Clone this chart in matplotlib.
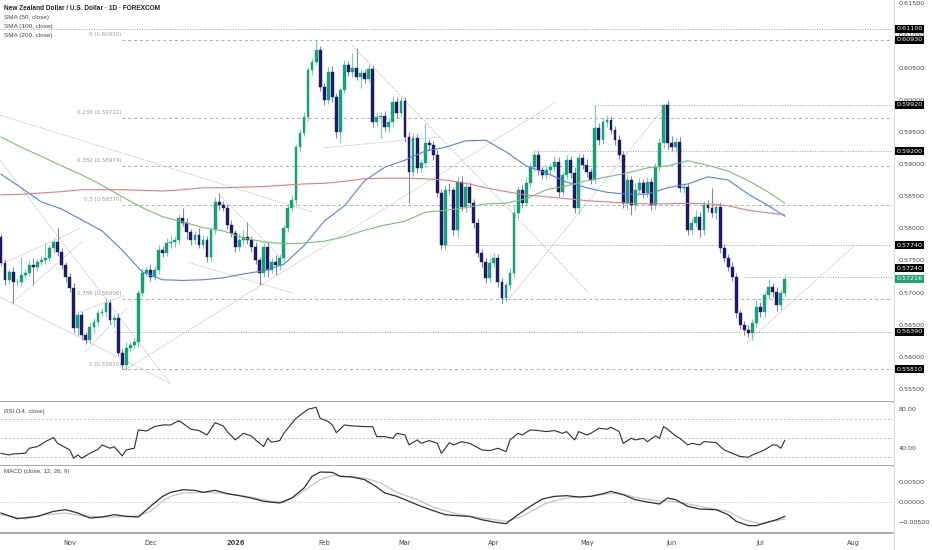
import numpy as np
import matplotlib
matplotlib.use("Agg")
import matplotlib.pyplot as plt
from matplotlib.lines import Line2D

# ---------------- data ----------------
closes = [
    0.5746, 0.5720, 0.5732, 0.5717, 0.5717, 0.5727, 0.5731, 0.5743, 0.5740, 0.5748,
    0.5751, 0.5754, 0.5769, 0.5779, 0.5763, 0.5743, 0.5724, 0.5707, 0.5645, 0.5665,
    0.5634, 0.5626, 0.5647, 0.5654, 0.5668, 0.5670, 0.5684, 0.5657, 0.5661, 0.5606,
    0.5587, 0.5614, 0.5619, 0.5623, 0.5699, 0.5731, 0.5735, 0.5724, 0.5735, 0.5766,
    0.5762, 0.5777, 0.5779, 0.5782, 0.5816, 0.5808, 0.5794, 0.5782, 0.5790, 0.5774,
    0.5782, 0.5755, 0.5797, 0.5841, 0.5836, 0.5832, 0.5805, 0.5793, 0.5771, 0.5782,
    0.5787, 0.5782, 0.5771, 0.5751, 0.5731, 0.5771, 0.5735, 0.5748, 0.5743, 0.5754,
    0.5800, 0.5832, 0.5844, 0.5926, 0.5948, 0.5973, 0.6046, 0.6059, 0.6077, 0.6020,
    0.6000, 0.6043, 0.6004, 0.5950, 0.6015, 0.6054, 0.6043, 0.6049, 0.6035, 0.6042,
    0.6032, 0.6048, 0.5965, 0.5973, 0.5975, 0.5958, 0.5965, 0.5996, 0.5979, 0.5998,
    0.5942, 0.5888, 0.5940, 0.5894, 0.5902, 0.5933, 0.5930, 0.5914, 0.5855, 0.5774,
    0.5860, 0.5859, 0.5797, 0.5872, 0.5833, 0.5864, 0.5839, 0.5808, 0.5762, 0.5748,
    0.5723, 0.5746, 0.5754, 0.5717, 0.5692, 0.5712, 0.5731, 0.5824, 0.5860, 0.5839,
    0.5870, 0.5895, 0.5914, 0.5891, 0.5883, 0.5891, 0.5895, 0.5903, 0.5856, 0.5883,
    0.5906, 0.5886, 0.5832, 0.5909, 0.5898, 0.5888, 0.5875, 0.5956, 0.5937, 0.5965,
    0.5968, 0.5953, 0.5937, 0.5914, 0.5839, 0.5875, 0.5836, 0.5860, 0.5870, 0.5855,
    0.5872, 0.5836, 0.5895, 0.5933, 0.5992, 0.5933, 0.5926, 0.5934, 0.5863, 0.5864,
    0.5797, 0.5808, 0.5818, 0.5797, 0.5836, 0.5832, 0.5824, 0.5833, 0.5769, 0.5754,
    0.5740, 0.5724, 0.5668, 0.5650, 0.5642, 0.5637, 0.5653, 0.5678, 0.5670, 0.5696,
    0.5709, 0.5701, 0.5681, 0.5699, 0.57216,
]
first_open = 0.5787

upper_wick_pips = [
    4, 6, 5, 8, 6, 28, 6, 8, 11, 5,
    6, 23, 5, 6, 22, 6, 5, 6, 8, 6,
    6, 5, 8, 6, 5, 6, 8, 6, 5, 8,
    6, 10, 5, 6, 5, 8, 6, 10, 6, 8,
    6, 8, 11, 6, 6, 15, 8, 5, 6, 10,
    8, 6, 5, 8, 14, 6, 6, 8, 5, 10,
    10, 23, 6, 8, 5, 6, 8, 6, 10, 6,
    5, 6, 8, 5, 6, 8, 5, 6, 16, 6,
    6, 8, 10, 6, 5, 8, 6, 23, 31, 5,
    6, 8, 6, 8, 6, 8, 6, 10, 8, 6,
    6, 8, 8, 6, 6, 31, 6, 6, 8, 6,
    8, 10, 6, 8, 10, 6, 8, 6, 8, 6,
    6, 8, 8, 6, 6, 5, 8, 10, 6, 8,
    10, 6, 8, 6, 5, 8, 6, 10, 8, 6,
    8, 6, 10, 8, 6, 10, 6, 36, 8, 6,
    8, 6, 6, 8, 6, 8, 6, 10, 8, 6,
    8, 6, 6, 8, 1, 8, 10, 6, 8, 6,
    6, 8, 10, 8, 6, 8, 31, 6, 8, 6,
    6, 8, 6, 5, 6, 8, 6, 10, 8, 6,
    12, 6, 8, 6, 8,
]
lower_wick_pips = [
    5, 8, 6, 33, 6, 6, 5, 5, 28, 6,
    5, 6, 5, 8, 6, 6, 7, 6, 8, 12,
    8, 6, 5, 10, 6, 5, 8, 6, 10, 5,
    6, 8, 6, 6, 8, 6, 5, 6, 5, 6,
    6, 5, 8, 8, 6, 5, 10, 8, 6, 5,
    6, 8, 6, 6, 8, 5, 6, 6, 8, 6,
    8, 6, 8, 6, 19, 6, 10, 5, 16, 8,
    5, 6, 5, 8, 6, 5, 6, 8, 5, 6,
    8, 6, 8, 10, 17, 5, 6, 8, 5, 17,
    6, 5, 8, 6, 33, 6, 8, 6, 8, 6,
    8, 48, 6, 8, 6, 6, 8, 8, 6, 6,
    8, 6, 8, 10, 6, 8, 6, 8, 6, 8,
    8, 6, 6, 8, 8, 6, 8, 6, 8, 6,
    5, 8, 6, 8, 6, 6, 8, 6, 8, 6,
    6, 8, 8, 10, 6, 8, 6, 6, 8, 6,
    8, 6, 8, 6, 8, 10, 15, 8, 6, 8,
    6, 8, 6, 6, 8, 10, 6, 8, 6, 8,
    8, 6, 6, 10, 8, 6, 6, 10, 8, 6,
    6, 6, 8, 6, 8, 6, 10, 6, 8, 8,
    6, 8, 10, 8, 6,
]

sma_idx = [0, 5, 10, 15, 20, 25, 30, 35, 40, 45, 50, 55, 60, 65, 70, 75, 80, 85,
           90, 95, 100, 105, 110, 115, 120, 125, 130, 135, 140, 145, 150, 155,
           160, 165, 170, 175, 180, 185, 190, 194]
sma50 = [0.5884, 0.5863, 0.5841, 0.5830, 0.5813, 0.5796, 0.5766, 0.5732, 0.5720,
         0.5719, 0.5720, 0.5723, 0.5729, 0.5734, 0.5744, 0.5773, 0.5811, 0.5835,
         0.5874, 0.5895, 0.5906, 0.5920, 0.5926, 0.5936, 0.5937, 0.5919, 0.5897,
         0.5886, 0.5872, 0.5863, 0.5856, 0.5853, 0.5853, 0.5863, 0.5869, 0.5880,
         0.5875, 0.5853, 0.5835, 0.5819]
sma100 = [0.5942, 0.5926, 0.5912, 0.5897, 0.5883, 0.5867, 0.5849, 0.5832, 0.5818,
          0.5810, 0.5801, 0.5796, 0.5785, 0.5779, 0.5776, 0.5777, 0.5780, 0.5787,
          0.5797, 0.5805, 0.5811, 0.5825, 0.5828, 0.5832, 0.5838, 0.5839, 0.5846,
          0.5860, 0.5866, 0.5874, 0.5880, 0.5886, 0.5894, 0.5897, 0.5905, 0.5898,
          0.5889, 0.5874, 0.5856, 0.5839]
sma200 = [0.5852, 0.5853, 0.5855, 0.5857, 0.5860, 0.5860, 0.5860, 0.5859, 0.5858,
          0.5860, 0.5863, 0.5863, 0.5864, 0.5865, 0.5867, 0.5869, 0.5870, 0.5873,
          0.5877, 0.5878, 0.5878, 0.5877, 0.5875, 0.5870, 0.5863, 0.5857, 0.5852,
          0.5849, 0.5846, 0.5843, 0.5841, 0.5839, 0.5838, 0.5838, 0.5839, 0.5838,
          0.5835, 0.5828, 0.5824, 0.5821]

rsi_idx = [0, 2, 3, 6, 7, 9, 11, 13, 14, 17,
           18, 19, 20, 22, 24, 25, 27, 28, 30, 31,
           33, 34, 36, 38, 40, 42, 44, 45, 47, 49,
           51, 53, 55, 56, 58, 60, 62, 63, 65, 66,
           67, 69, 70, 72, 73, 76, 78, 79, 81, 82,
           83, 85, 87, 90, 92, 93, 95, 97, 98, 100,
           101, 103, 104, 106, 108, 109, 111, 112, 114, 116,
           118, 119, 121, 123, 125, 126, 128, 129, 131, 133,
           135, 137, 139, 140, 142, 143, 145, 146, 148, 150,
           151, 153, 154, 156, 157, 159, 160, 162, 163, 164,
           165, 167, 168, 170, 171, 173, 174, 176, 177, 179,
           181, 183, 185, 186, 188, 189, 191, 192, 193, 194]
rsi_val = [34.3, 32.6, 33.6, 34.3, 39.5, 41.2, 46.3, 50.5, 44.6, 37.8,
           29.2, 32.6, 29.2, 34.3, 38.4, 42.9, 39.5, 41.2, 31.6, 37.8,
           39.5, 58.4, 57.3, 61.8, 63.5, 63.5, 68.0, 65.2, 59.1, 57.7,
           53.2, 65.9, 62.5, 56.7, 48.1, 54.9, 52.2, 48.1, 41.2, 49.8,
           45.7, 47.4, 54.9, 65.2, 70.4, 79.7, 81.7, 70.4, 67.0, 63.5,
           55.6, 63.5, 62.5, 61.8, 61.8, 51.5, 51.5, 49.8, 54.9, 53.2,
           42.9, 48.1, 44.6, 47.4, 44.6, 34.3, 45.3, 42.9, 46.3, 44.6,
           40.2, 37.8, 37.1, 39.5, 36.0, 48.1, 54.9, 53.2, 58.4, 57.7,
           56.7, 57.7, 54.9, 56.7, 48.1, 56.7, 53.2, 54.9, 60.1, 59.1,
           61.1, 56.7, 44.6, 49.8, 48.1, 49.8, 46.3, 52.2, 49.8, 61.8,
           59.1, 52.2, 49.8, 42.9, 44.6, 42.9, 46.3, 45.7, 45.3, 37.8,
           34.3, 30.9, 30.2, 32.6, 36.0, 37.8, 42.9, 42.9, 39.5, 47.4]

macd_idx = [0, 4, 9, 13, 16, 19, 22, 25, 28, 31, 34, 37, 40, 42, 45, 48, 50, 53,
            56, 59, 62, 65, 69, 72, 75, 77, 79, 82, 84, 87, 90, 93, 95, 98, 101,
            104, 107, 110, 113, 116, 119, 122, 125, 128, 131, 134, 137, 140, 143,
            146, 149, 151, 154, 157, 160, 163, 165, 167, 170, 173, 177, 180, 182,
            185, 187, 189, 192, 194]
macd_val = [-0.00271, -0.00411, -0.00354, -0.00230, -0.00189, -0.00271, -0.00395,
            -0.00370, -0.00312, -0.00354, -0.00370, -0.00107, 0.00139, 0.00238,
            0.00303, 0.00287, 0.00238, 0.00287, 0.00205, 0.00156, 0.00098, 0.00016,
            -0.00025, 0.00098, 0.00344, 0.00632, 0.00738, 0.00730, 0.00632, 0.00615,
            0.00550, 0.00369, 0.00221, 0.00139, 0.00016, -0.00107, -0.00214,
            -0.00312, -0.00337, -0.00354, -0.00436, -0.00493, -0.00534, -0.00312,
            -0.00107, 0.00074, 0.00139, 0.00156, 0.00123, 0.00139, 0.00205, 0.00262,
            0.00180, 0.00057, 0.00000, -0.00049, 0.00098, 0.00057, -0.00107,
            -0.00173, -0.00189, -0.00312, -0.00477, -0.00583, -0.00583, -0.00518,
            -0.00436, -0.00354]
signal_idx = [0, 6, 11, 16, 20, 25, 29, 34, 37, 40, 42, 45, 50, 54, 59, 63, 67, 70,
              73, 76, 79, 82, 85, 90, 94, 98, 103, 107, 112, 116, 121, 125, 129,
              132, 135, 140, 144, 149, 153, 157, 162, 166, 171, 175, 180, 184, 188,
              191, 194]
signal_val = [-0.00312, -0.00419, -0.00312, -0.00271, -0.00337, -0.00370, -0.00370,
              -0.00337, -0.00230, 0.00016, 0.00139, 0.00221, 0.00238, 0.00221,
              0.00164, 0.00098, 0.00016, 0.00000, 0.00139, 0.00344, 0.00550,
              0.00648, 0.00632, 0.00591, 0.00468, 0.00238, 0.00057, -0.00123,
              -0.00271, -0.00354, -0.00419, -0.00477, -0.00354, -0.00189, -0.00025,
              0.00098, 0.00123, 0.00180, 0.00221, 0.00115, 0.00033, 0.00016,
              -0.00066, -0.00148, -0.00230, -0.00436, -0.00543, -0.00477, -0.00419]

month_pos = [17, 37, 58, 80, 100, 122, 145, 166, 188, 211]
month_labels = ["Nov", "Dec", "2026", "Feb", "Mar", "Apr", "May", "Jun", "Jul", "Aug"]

fib_ratios = ["0", "0.236", "0.382", "0.5", "0.786", "1"]
fib_levels = [0.60930, 0.59722, 0.58974, 0.58370, 0.56906, 0.55810]
fib_anchor = 30

sr_levels = [0.611, 0.5992, 0.592, 0.5774, 0.5724, 0.5639]
sr_start = [-0.25, 147, 132, 109, 184, 28]

axis_marks = [0.611, 0.6093, 0.5992, 0.592, 0.5774, 0.5724, 0.5639, 0.5581]
axis_mark_shift = [0, 0, 0, 0, 0, 9, 0, 0]
last_price = 0.57216

trend_lines = [
    (-0.25, 0.5976, 77.2, 0.5825),
    (-0.25, 0.5906, 41.8, 0.5559),
    (-0.25, 0.5693, 41.8, 0.5559),
    (1.5, 0.5748, 19.6, 0.5800),
    (2.7, 0.5684, 20.0, 0.5779),
    (19.6, 0.5670, 30.7, 0.5696),
    (20.8, 0.5608, 31.2, 0.5676),
    (30.7, 0.5580, 137.1, 0.5995),
    (53.7, 0.5855, 69.8, 0.5751),
    (46.8, 0.5746, 72.3, 0.5699),
    (86.9, 0.6085, 145.3, 0.5701),
    (79.7, 0.5925, 108.7, 0.5942),
    (126.0, 0.5692, 165.1, 0.5995),
    (184.7, 0.5623, 211.4, 0.5774),
]

assert len(closes) == len(upper_wick_pips) == len(lower_wick_pips)
assert len(rsi_idx) == len(rsi_val)
assert len(macd_idx) == len(macd_val)
assert len(signal_idx) == len(signal_val)
assert len(sma_idx) == len(sma50) == len(sma100) == len(sma200)

# ---------------- derived OHLC ----------------
c = np.array(closes)
o = np.concatenate([[first_open], c[:-1]])
hi = np.maximum(o, c) + np.array(upper_wick_pips) * 1e-4
lo = np.minimum(o, c) - np.array(lower_wick_pips) * 1e-4
x = np.arange(len(c))
up = c >= o

# ---------------- style ----------------
plt.rcParams["font.family"] = ["DejaVu Sans"]
LAB_FONT = ["Liberation Sans", "DejaVu Sans"]
UP = "#16a07a"
DN = "#1b1c66"
UPW = "#7fcab2"
DNW = "#8586ad"
TXT = "#444444"
W, H = 932, 550

fig = plt.figure(figsize=(W / 100, H / 100), dpi=100)
fig.patch.set_facecolor("white")


def rect(top, bottom):
    return [0.0, 1 - bottom / H, 893 / W, (bottom - top) / H]


ax = fig.add_axes(rect(0, 401.7))
ax_rsi = fig.add_axes(rect(401.7, 465.7), sharex=ax)
ax_macd = fig.add_axes(rect(465.7, 532.7), sharex=ax)

for a in (ax, ax_rsi, ax_macd):
    for s in ("top", "left", "right"):
        a.spines[s].set_visible(False)
    a.spines["bottom"].set_color("#9a9a9a")
    a.spines["bottom"].set_linewidth(1.2)
    a.set_facecolor("white")
    a.yaxis.tick_right()
    a.tick_params(axis="y", length=0, pad=4, labelsize=4.6, labelcolor=TXT)
    a.tick_params(axis="x", length=0)

ax.set_xlim(-0.25, 220.8)
ax.set_ylim(0.55304, 0.6155)

# candles
ax.vlines(x[up], lo[up], hi[up], color=UPW, lw=0.8, zorder=2)
ax.vlines(x[~up], lo[~up], hi[~up], color=DNW, lw=0.8, zorder=2)
body_lo = np.minimum(o, c)
body_h = np.abs(c - o)
ax.bar(x[up], body_h[up], bottom=body_lo[up], width=0.7, color=UP,
       edgecolor=UP, linewidth=0.3, zorder=3)
ax.bar(x[~up], body_h[~up], bottom=body_lo[~up], width=0.7, color=DN,
       edgecolor=DN, linewidth=0.3, zorder=3)

# moving averages
ax.plot(sma_idx, sma50, color="#5b7fdc", lw=0.8, zorder=4)
ax.plot(sma_idx, sma100, color="#7dbb7d", lw=0.8, zorder=4)
ax.plot(sma_idx, sma200, color="#e07a84", lw=0.8, zorder=4)

# fib levels
for r, lv in zip(fib_ratios, fib_levels):
    ax.plot([fib_anchor, 220.8], [lv, lv], color="#ababab", lw=0.7,
            dashes=(3, 3), zorder=1.5)
    ax.annotate(f"{r} ({lv:.5f})", xy=(fib_anchor, lv), xytext=(-1, 2.5),
                textcoords="offset pixels", ha="right", va="bottom",
                fontsize=4.0, color="#9a9a9a", zorder=5)

# support / resistance dotted
for lv, st in zip(sr_levels, sr_start):
    ax.plot([st, 220.8], [lv, lv], color="#9c9c9c", lw=0.7,
            linestyle=(0, (1, 1.6)), zorder=1.5)

# trend lines
for (x0, y0, x1, y1) in trend_lines:
    ax.plot([x0, x1], [y0, y1], color="#a0a0a0", lw=0.6,
            linestyle=(0, (1, 1.4)), zorder=1.4)

# price axis ticks
pticks = np.round(np.arange(0.555, 0.6151, 0.005), 3)
ax.set_yticks(pticks)
ax.set_yticklabels([f"{t:.5f}" for t in pticks])
ax.tick_params(axis="x", labelbottom=False)

for lv, sh in zip(axis_marks, axis_mark_shift):
    ax.annotate(f"{lv:.5f}", xy=(1.0, lv), xycoords=("axes fraction", "data"),
                xytext=(3.5, sh), textcoords="offset pixels", ha="left",
                va="center", fontsize=4.6, color="white", zorder=20,
                annotation_clip=False,
                bbox=dict(boxstyle="square,pad=0.22", fc="black", ec="none"))
ax.annotate(f"{last_price:.5f}", xy=(1.0, last_price),
            xycoords=("axes fraction", "data"), xytext=(3.5, 0),
            textcoords="offset pixels", ha="left", va="center", fontsize=4.6,
            color="white", zorder=21, annotation_clip=False,
            bbox=dict(boxstyle="square,pad=0.22", fc="#22a274", ec="none"))

# RSI
ax_rsi.set_ylim(21.5, 87.5)
ax_rsi.plot(rsi_idx, rsi_val, color="#2e2e2e", lw=0.8, zorder=3)
for lv in (70, 50, 30):
    ax_rsi.axhline(lv, color="#b3b3b3", lw=0.6, dashes=(2.5, 2.5), zorder=1)
ax_rsi.set_yticks([40, 80])
ax_rsi.set_yticklabels(["40.00", "80.00"])
ax_rsi.tick_params(axis="x", labelbottom=False)

# MACD
ax_macd.set_ylim(-0.00756, 0.00894)
ax_macd.axhline(0, color="#b3b3b3", lw=0.6, linestyle=(0, (1, 1.6)), zorder=1)
ax_macd.plot(signal_idx, signal_val, color="#c4c4c4", lw=0.9, zorder=2)
ax_macd.plot(macd_idx, macd_val, color="#2e2e2e", lw=0.9, zorder=3)
ax_macd.set_yticks([-0.005, 0.0, 0.005])
ax_macd.set_yticklabels(["\u22120.00500", "0.00000", "0.00500"])

ax_macd.set_xticks(month_pos)
ax_macd.set_xticklabels(month_labels)
ax_macd.tick_params(axis="x", labelsize=4.8, labelcolor=TXT, pad=5)
for lab in ax_macd.get_xticklabels():
    if lab.get_text() == "2026":
        lab.set_fontweight("bold")

# right separator
fig.add_artist(Line2D([893.5 / W, 893.5 / W], [0, 1], color="#dcdcdc", lw=0.8,
                      transform=fig.transFigure, zorder=0))


def ftext(px, py, s, **kw):
    fig.text(px / W, 1 - py / H, s, va="center", ha="left", family=LAB_FONT, **kw)


ftext(4, 8.5, "New Zealand Dollar / U.S. Dollar \u00b7 1D \u00b7 FOREXCOM",
      fontsize=4.7, color="#222222", fontweight="bold")
ftext(4, 17.5, "SMA (50, close)", fontsize=4.6, color=TXT)
ftext(4, 26.5, "SMA (100, close)", fontsize=4.6, color=TXT)
ftext(4, 35.5, "SMA (200, close)", fontsize=4.6, color=TXT)
ftext(4, 411, "RSI (14, close)", fontsize=4.4, color=TXT)
ftext(4, 472, "MACD (close, 12, 26, 9)", fontsize=4.4, color=TXT)

fig.savefig("out.png", dpi=100, facecolor="white")
